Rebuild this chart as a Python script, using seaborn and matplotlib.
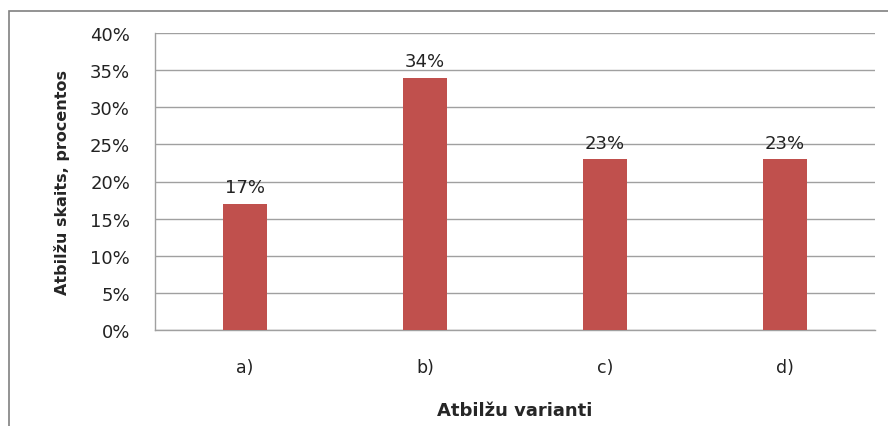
import matplotlib
matplotlib.use("Agg")
import matplotlib.pyplot as plt
import seaborn as sns
import pandas as pd
from matplotlib.ticker import PercentFormatter
from matplotlib.patches import Rectangle

# data
variants = ['a)', 'b)', 'c)', 'd)']
shares = [17, 34, 23, 23]

df = pd.DataFrame({'variant': variants, 'share': shares})

sns.set_style("white")
plt.rcParams['font.family'] = ['DejaVu Sans']

fig = plt.figure(figsize=(8.88, 4.27), dpi=100)
ax = fig.add_axes([155/888, 1 - 331/427, 720/888, 297/427])

sns.barplot(data=df, x='variant', y='share', color='#C0504D', width=0.245,
            saturation=1, ax=ax, zorder=3, edgecolor='none')

ax.set_ylim(0, 40)
ax.set_yticks(range(0, 41, 5))
ax.yaxis.set_major_formatter(PercentFormatter(decimals=0))
ax.grid(axis='y', color='#a0a0a0', linewidth=1, zorder=0)
ax.set_axisbelow(True)

for s in ['top', 'right']:
    ax.spines[s].set_visible(False)
for s in ['left', 'bottom']:
    ax.spines[s].set_color('#a0a0a0')
    ax.spines[s].set_linewidth(1)

ax.tick_params(axis='y', length=8, color='#a0a0a0', labelsize=13, pad=10,
               labelcolor='#222222')
ax.tick_params(axis='x', length=0, labelsize=12.5, pad=20, labelcolor='#222222')

for i, v in enumerate(shares):
    ax.text(i, v + 1.0, f'{v}%', ha='center', va='bottom', fontsize=13,
            color='#222222')

ax.set_xlabel('Atbilžu varianti', fontsize=13, fontweight='bold', labelpad=18)
ax.set_ylabel('Atbilžu skaits, procentos', fontsize=11.5, fontweight='bold',
              labelpad=14)

# outer chart border
fig.patches.append(Rectangle((9/888, -0.05), 1.0, 1 - 12/427 + 0.05,
                             transform=fig.transFigure, fill=False,
                             edgecolor='#808080', linewidth=1.2))

fig.savefig('out.png', dpi=100)
